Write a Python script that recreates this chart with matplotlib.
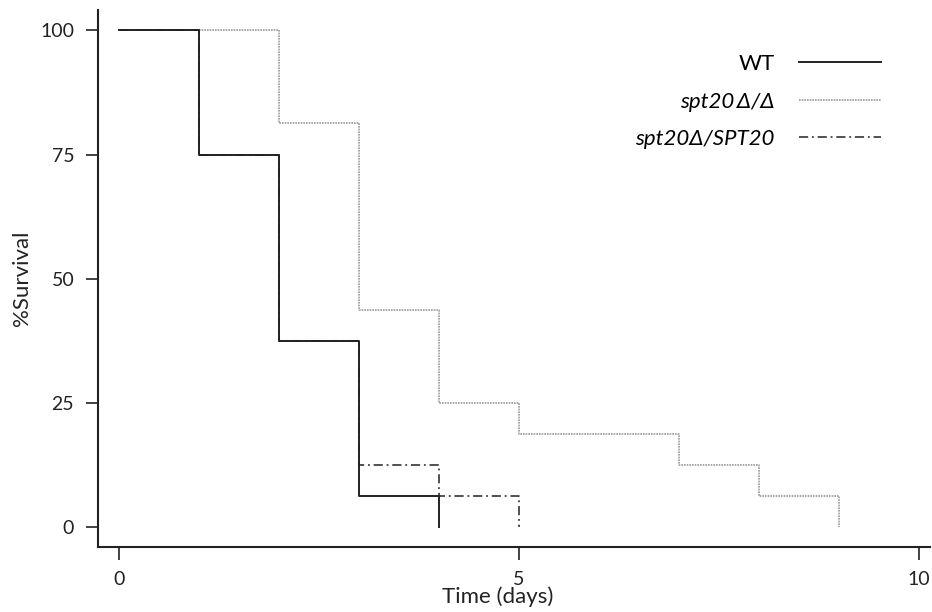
import matplotlib
matplotlib.use("Agg")
import matplotlib.pyplot as plt

plt.rcParams['font.family'] = ['Lato', 'DejaVu Sans']

# Kaplan-Meier style survival curves (time in days, % survival)
wt_time = [0, 1, 2, 3, 4]
wt_surv = [100, 75, 37.5, 6.25, 0]

dd_time = [0, 2, 3, 4, 5, 7, 8, 9]
dd_surv = [100, 81.25, 43.75, 25, 18.75, 12.5, 6.25, 0]

het_time = [0, 1, 2, 3, 4, 5]
het_surv = [100, 75, 37.5, 12.5, 6.25, 0]

labels = ["WT", "spt20\u2009\u0394/\u0394", "spt20\u0394/SPT20"]

fig = plt.figure(figsize=(9.32, 6.12), dpi=100)
ax = fig.add_axes([0.105, 0.106, 0.893, 0.877])

l2, = ax.step(dd_time, dd_surv, where="post", color="#9a9a9a", lw=1.2,
              linestyle=(0, (1, 0.6)), label=labels[1])
l3, = ax.step(het_time, het_surv, where="post", color="#222222", lw=1.1,
              linestyle=(0, (6, 2.5, 1.2, 2.5)), label=labels[2])
l1, = ax.step(wt_time, wt_surv, where="post", color="#222222", lw=1.4,
              label=labels[0])

ax.set_xlim(-0.26, 10.14)
ax.set_ylim(-4, 104)
ax.set_xticks([0, 5, 10])
ax.set_yticks([0, 25, 50, 75, 100])
ax.tick_params(direction="out", length=9, width=1.2, labelsize=14,
               colors="#222222", pad=8)
for side in ["top", "right"]:
    ax.spines[side].set_visible(False)
for side in ["left", "bottom"]:
    ax.spines[side].set_linewidth(1.5)
    ax.spines[side].set_color("#222222")

ax.set_xlabel("Time (days)", fontsize=16, color="#222222")
ax.xaxis.set_label_coords(0.48, -0.074)
ax.set_ylabel("%Survival", fontsize=16, labelpad=6, color="#222222")

leg = ax.legend([l1, l2, l3], labels, loc="upper right",
                bbox_to_anchor=(0.952, 0.935), frameon=False, markerfirst=False,
                fontsize=16, handlelength=3.7, handletextpad=1.1,
                labelspacing=0.78, borderaxespad=0)
for t in leg.get_texts()[1:]:
    t.set_style("italic")
for t in leg.get_texts():
    t.set_ha("right")
leg._legend_box.align = "right"

fig.savefig("out.png", dpi=100)
